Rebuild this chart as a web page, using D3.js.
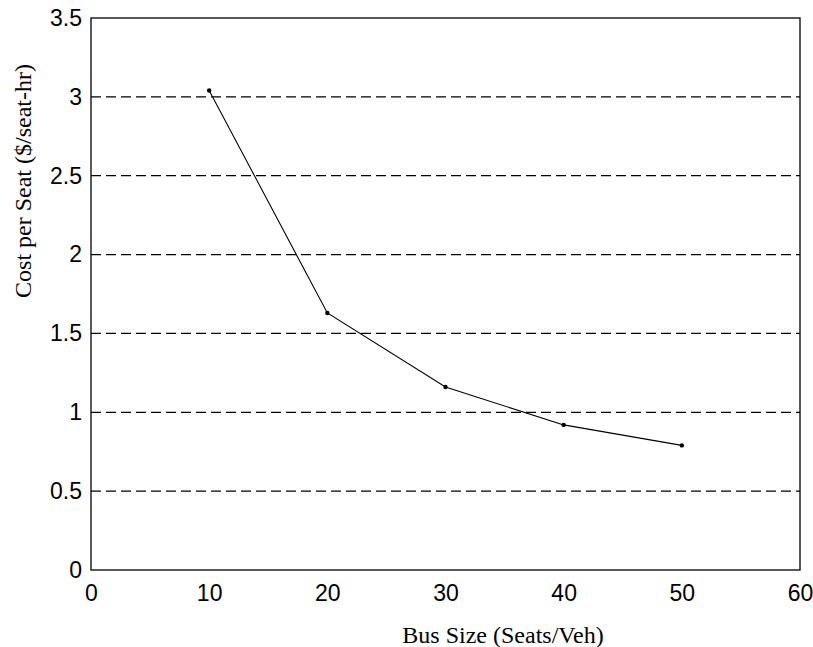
<!DOCTYPE html>
<html>
<head>
<meta charset="utf-8">
<title>Cost per Seat</title>
<style>
    body { margin: 0; background: #fff; }
    .tick text { font-family: "Liberation Sans", Arial, sans-serif; font-size: 23px; fill: #000; }
    .axis-title { font-family: "Liberation Serif", "Times New Roman", serif; font-size: 24px; fill: #000; }
</style>
</head>
<body>
<svg width="813" height="647"></svg>
<script src="https://d3js.org/d3.v7.min.js"></script>
<script>
    // values
    var busSizes = [10, 20, 30, 40, 50];
    var costPerSeat = [3.04, 1.63, 1.16, 0.92, 0.79];
    var xTicks = [0, 10, 20, 30, 40, 50, 60];
    var yTicks = [0, 0.5, 1, 1.5, 2, 2.5, 3, 3.5];
    var gridLevels = [0.5, 1, 1.5, 2, 2.5, 3];

    var svg = d3.select("svg"),
        margin = {top: 18, right: 13, bottom: 77, left: 91},
        width = +svg.attr("width") - margin.left - margin.right,
        height = +svg.attr("height") - margin.top - margin.bottom,
        g = svg.append("g").attr("transform", "translate(" + margin.left + "," + margin.top + ")");

    var x = d3.scaleLinear().domain([0, 60]).range([0, width]);
    var y = d3.scaleLinear().domain([0, 3.5]).range([height, 0]);

    // dashed horizontal grid
    g.append("g")
        .selectAll("line")
        .data(gridLevels)
        .enter().append("line")
        .attr("x1", 0)
        .attr("x2", width)
        .attr("y1", function (d) { return y(d); })
        .attr("y2", function (d) { return y(d); })
        .attr("stroke", "#000")
        .attr("stroke-width", 1.2)
        .attr("stroke-dasharray", "10,5");

    var xAxis = g.append("g")
        .attr("transform", "translate(0," + height + ")")
        .call(d3.axisBottom(x).tickValues(xTicks).tickFormat(d3.format("d")).tickSize(0).tickPadding(15));
    xAxis.select(".domain").remove();

    var yAxis = g.append("g")
        .call(d3.axisLeft(y).tickValues(yTicks).tickFormat(function (d) { return String(d); }).tickSize(0).tickPadding(9));
    yAxis.select(".domain").remove();

    // frame
    g.append("rect")
        .attr("x", 0)
        .attr("y", 0)
        .attr("width", width)
        .attr("height", height)
        .attr("fill", "none")
        .attr("stroke", "#000")
        .attr("stroke-width", 1.3);

    var pts = busSizes.map(function (s, i) { return {x: s, y: costPerSeat[i]}; });

    var line = d3.line()
        .x(function (d) { return x(d.x); })
        .y(function (d) { return y(d.y); });

    g.append("path")
        .datum(pts)
        .attr("fill", "none")
        .attr("stroke", "#000")
        .attr("stroke-width", 1.1)
        .attr("d", line);

    g.append("g")
        .selectAll("circle")
        .data(pts)
        .enter().append("circle")
        .attr("cx", function (d) { return x(d.x); })
        .attr("cy", function (d) { return y(d.y); })
        .attr("r", 2.2)
        .attr("fill", "#000");

    svg.append("text")
        .attr("class", "axis-title")
        .attr("x", 503)
        .attr("y", 643)
        .attr("text-anchor", "middle")
        .text("Bus Size (Seats/Veh)");

    svg.append("text")
        .attr("class", "axis-title")
        .attr("transform", "translate(31,181) rotate(-90)")
        .attr("text-anchor", "middle")
        .text("Cost per Seat ($/seat-hr)");
</script>
</body>
</html>
